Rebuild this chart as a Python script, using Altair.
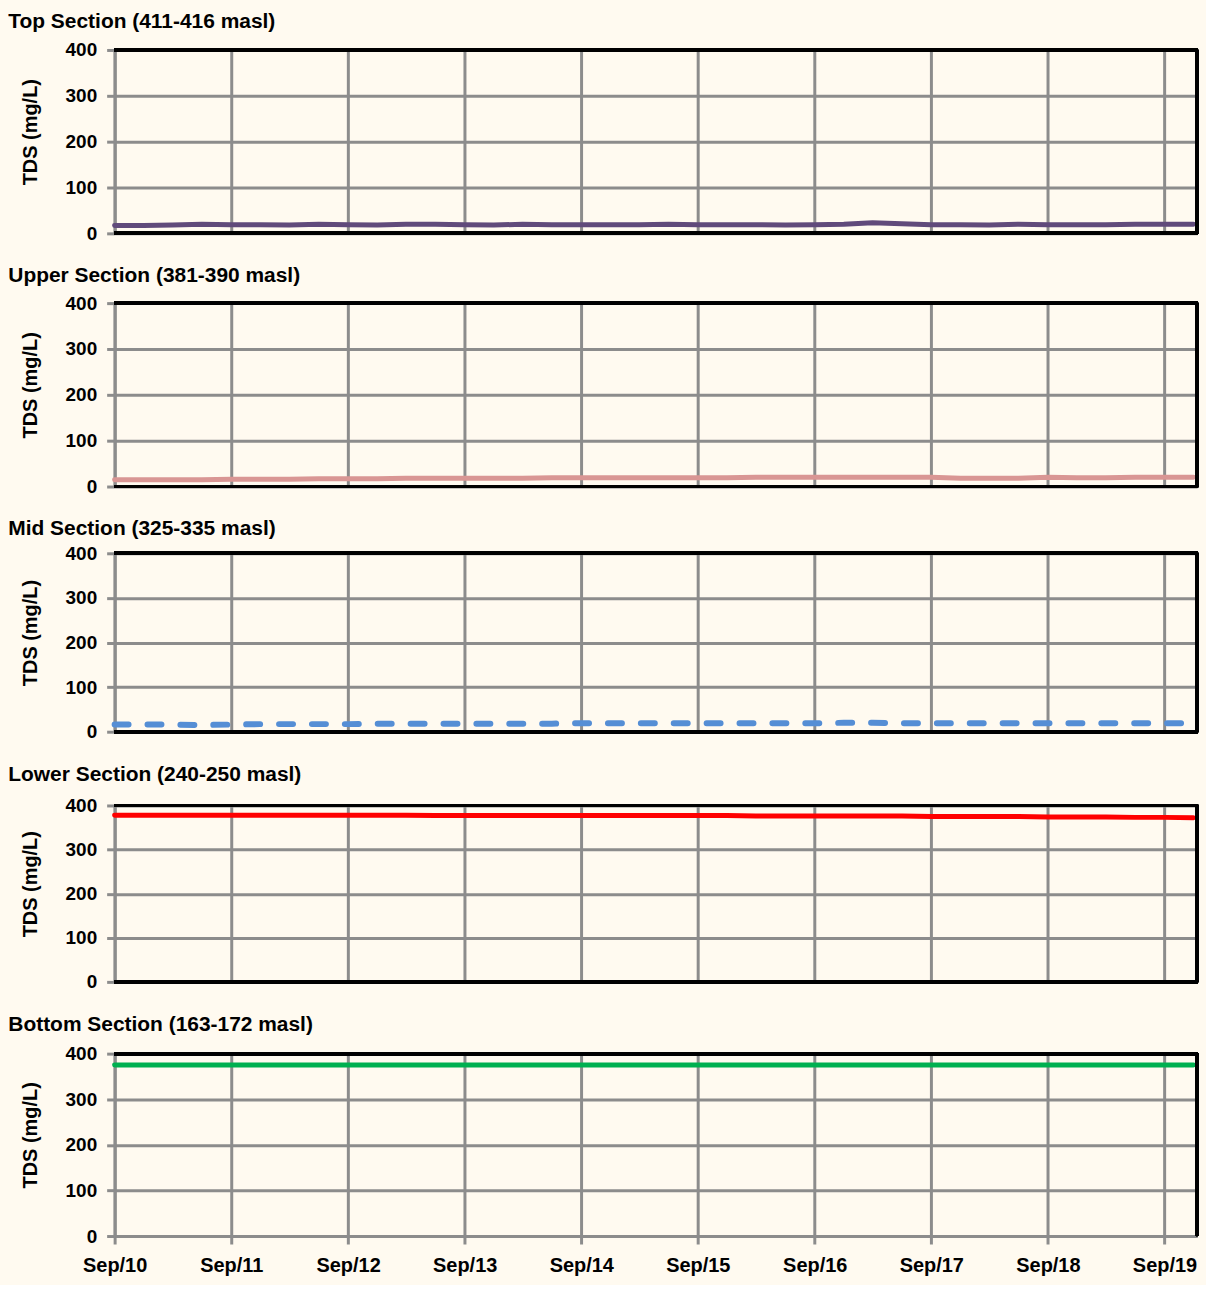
import altair as alt
import pandas as pd

# Quarterly sample dates, Sep 2010 .. Dec 2019
dates = pd.date_range("2010-09-01", periods=38, freq="3MS").strftime("%Y-%m-%dT00:00:00").tolist()

top_vals = [17, 17, 18, 20, 19, 19, 18, 20, 19, 18, 20, 20, 19, 18, 20, 19, 19, 19, 19,
            20, 19, 19, 19, 18, 19, 20, 23, 21, 19, 19, 18, 20, 19, 19, 19, 20, 20, 20]
upper_vals = [15, 15, 15, 15, 16, 16, 16, 17, 17, 17, 18, 18, 18, 18, 18, 19, 19, 19, 19,
              19, 19, 19, 20, 20, 20, 20, 20, 20, 20, 18, 18, 18, 20, 19, 19, 20, 20, 20]
mid_vals = [16, 16, 16, 15, 16, 17, 17, 17, 17, 18, 18, 18, 18, 18, 18, 18, 19, 19, 19,
            19, 19, 19, 19, 19, 19, 20, 20, 19, 19, 19, 19, 19, 19, 19, 19, 19, 19, 19]
lower_vals = [378, 378, 378, 378, 378, 378, 378, 378, 378, 378, 378, 377, 377, 377, 377, 377, 377, 377, 377,
              377, 377, 377, 376, 376, 376, 376, 376, 376, 375, 375, 375, 375, 374, 374, 374, 373, 373, 372]
bottom_vals = [375] * 38

titles = ["Top Section (411-416 masl)", "Upper Section (381-390 masl)", "Mid Section (325-335 masl)",
          "Lower Section (240-250 masl)", "Bottom Section (163-172 masl)"]
series = [top_vals, upper_vals, mid_vals, lower_vals, bottom_vals]
colors = ["#604A7B", "#D99694", "#558ED5", "#FF0000", "#00B050"]
y_ticks = [0, 100, 200, 300, 400]
tick_years = list(range(2010, 2020))

W = 1086
heights = [184, 184, 179, 177, 183]
title_offsets = [9, 8, 5, 12, 10]
FONT = "Liberation Sans"
GRID = "#8C8C8C"
BG = "#FFFAF0"

x_scale = alt.Scale(domain=[alt.DateTime(year=2010, month=9, date=1),
                            alt.DateTime(year=2019, month=12, date=12)], nice=False)
tick_vals = [alt.DateTime(year=y, month=9, date=1) for y in tick_years]


def panel(i):
    last = i == len(series) - 1
    h = heights[i]
    df = pd.DataFrame({"date": dates, "tds": series[i]})
    if last:
        xaxis = alt.Axis(values=tick_vals, format="%b/%y", title=None, grid=True,
                         gridColor=GRID, gridWidth=3, domainColor=GRID, domainWidth=3,
                         tickColor=GRID, tickWidth=3, tickSize=8, labelFont=FONT,
                         labelFontWeight="bold", labelFontSize=20, labelColor="black",
                         labelPadding=12, labelFlush=False)
    else:
        xaxis = alt.Axis(values=tick_vals, title=None, grid=True, gridColor=GRID, gridWidth=3,
                         labels=False, ticks=False, domain=False)
    yaxis = alt.Axis(values=y_ticks, title="TDS (mg/L)", grid=True, gridColor=GRID, gridWidth=3,
                     domainColor=GRID, domainWidth=3, tickColor=GRID, tickWidth=3, tickSize=8,
                     labelFont=FONT, labelFontWeight="bold", labelFontSize=19, labelColor="black",
                     labelPadding=10, titleFont=FONT, titleFontWeight="bold", titleFontSize=20,
                     titleColor="black", titlePadding=25, titleY=h / 2 - 10)
    mark_kwargs = dict(color=colors[i], strokeWidth=5, strokeCap="round")
    if i == 2:
        mark_kwargs.update(strokeDash=[14, 19], strokeWidth=6)
    line = alt.Chart(df).mark_line(**mark_kwargs).encode(
        x=alt.X("date:T", scale=x_scale, axis=xaxis),
        y=alt.Y("tds:Q", scale=alt.Scale(domain=[0, 400]), axis=yaxis),
    )
    top_rule = alt.Chart(df).mark_rule(color="black", strokeWidth=3).encode(
        x=alt.value(0), x2=alt.value(W + 1), y=alt.value(0))
    right_rule = alt.Chart(df).mark_rule(color="black", strokeWidth=3).encode(
        x=alt.value(W), y=alt.value(0), y2=alt.value(h))
    layers = [line, top_rule, right_rule]
    if not last:
        bottom_rule = alt.Chart(df).mark_rule(color="black", strokeWidth=3).encode(
            x=alt.value(0), x2=alt.value(W + 1), y=alt.value(h))
        layers.append(bottom_rule)
    return alt.layer(*layers).properties(
        width=W, height=h,
        title=alt.TitleParams(titles[i], anchor="start", font=FONT, fontWeight="bold",
                              fontSize=21, color="black", offset=title_offsets[i], dx=-12),
    )


chart = alt.vconcat(*[panel(i) for i in range(len(series))], spacing=20).properties(
    background=BG, padding={"left": 7, "top": 8, "right": 0, "bottom": 6}
).configure_view(stroke="transparent")

chart.save("out.html", embed_options={"renderer": "svg", "actions": False})
